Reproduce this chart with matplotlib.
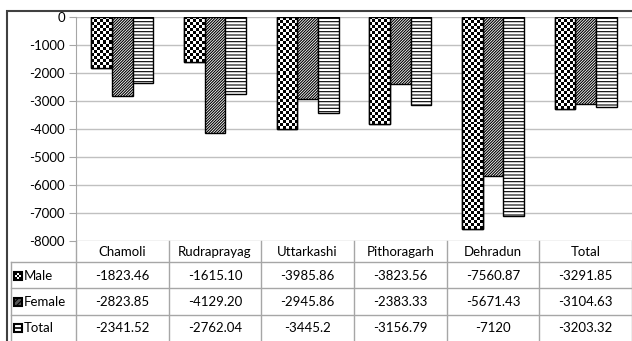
import numpy as np
import matplotlib
matplotlib.use('Agg')
import matplotlib.pyplot as plt
from matplotlib.patches import Rectangle

categories = ['Chamoli', 'Rudraprayag', 'Uttarkashi', 'Pithoragarh', 'Dehradun', 'Total']
series_names = ['Male', 'Female', 'Total']
male = [-1823.46, -1615.10, -3985.86, -3823.56, -7560.87, -3291.85]
female = [-2823.85, -4129.20, -2945.86, -2383.33, -5671.43, -3104.63]
total = [-2341.52, -2762.04, -3445.2, -3156.79, -7120, -3203.32]
male_labels = ['-1823.46', '-1615.10', '-3985.86', '-3823.56', '-7560.87', '-3291.85']
female_labels = ['-2823.85', '-4129.20', '-2945.86', '-2383.33', '-5671.43', '-3104.63']
total_labels = ['-2341.52', '-2762.04', '-3445.2', '-3156.79', '-7120', '-3203.32']
yticks = [0, -1000, -2000, -3000, -4000, -5000, -6000, -7000, -8000]

plt.rcParams['font.family'] = ['Lato', 'DejaVu Sans']
plt.rcParams['hatch.linewidth'] = 0.8

W, H = 632, 341
fig = plt.figure(figsize=(W / 100, H / 100), dpi=100)
fig.patch.set_facecolor('white')

ax_l, ax_r, ax_t, ax_b = 76, 632, 17, 241
ax = fig.add_axes([ax_l / W, 1 - ax_b / H, (ax_r - ax_l) / W, (ax_b - ax_t) / H])
ax.set_xlim(-0.5, 5.5)
ax.set_ylim(-8000, 0)
ax.set_yticks(yticks)
ax.set_yticklabels([str(v) for v in yticks], fontsize=9.5)
ax.set_xticks([])
for s in ['top', 'right', 'bottom']:
    ax.spines[s].set_visible(False)
ax.spines['left'].set_color('#a6a6a6')
ax.tick_params(axis='y', length=5, color='#a6a6a6', pad=3, labelcolor='black')
ax.yaxis.grid(True, color='#c0c0c0', linewidth=1)
ax.set_axisbelow(True)

bw = 0.222
x = np.arange(len(categories))
px_per_x = (ax_r - ax_l) / 6.0
px_per_y = (ax_b - ax_t) / 8000.0

# Male: checkerboard via clipped images
mbars = ax.bar(x - bw, male, bw, color='white', edgecolor='black', linewidth=1, zorder=2)
for b in mbars:
    x0, w0 = b.get_x(), b.get_width()
    h0 = b.get_height()
    nx = max(1, int(round(w0 * px_per_x / 3)))
    ny = max(1, int(round(abs(h0) * px_per_y / 3)))
    chk = np.add.outer(np.arange(ny), np.arange(nx)) % 2
    im = ax.imshow(chk, cmap='gray', vmin=0, vmax=1, interpolation='nearest',
                   extent=(x0, x0 + w0, h0, 0), aspect='auto', zorder=2.5)
    im.set_clip_path(b)
ax.bar(x - bw, male, bw, fill=False, edgecolor='black', linewidth=1, zorder=3)
ax.bar(x, female, bw, color='white', edgecolor='black', linewidth=1, hatch='/' * 12, zorder=2)
ax.bar(x + bw, total, bw, color='white', edgecolor='black', linewidth=1, hatch='-----', zorder=2)
ax.set_xlim(-0.5, 5.5)
ax.set_ylim(-8000, 0)

# Table axes
tax = fig.add_axes([ax_l / W, 0, (ax_r - ax_l) / W, 1 - ax_b / H])
tax.set_xlim(-0.5, 5.5)
tax.set_ylim(H, ax_b)
tax.axis('off')

def xd(px):
    return (px - ax_l) / px_per_x - 0.5

lc = '#a6a6a6'
rows_y = [262, 288, 315, 341]
for i in range(7):
    tax.plot([i - 0.5, i - 0.5], [ax_b, H], color=lc, lw=1, clip_on=False)
tax.plot([xd(11), xd(11)], [262, H], color=lc, lw=1, clip_on=False)
for yy in rows_y[:3]:
    tax.plot([xd(11), 5.5], [yy, yy], color=lc, lw=1, clip_on=False)

for i, c in enumerate(categories):
    tax.text(i, 252, c, ha='center', va='center', fontsize=9.5, color='black')
row_vals = [male_labels, female_labels, total_labels]
row_cy = [276, 302, 328]
for r, (nm, vals) in enumerate(zip(series_names, row_vals)):
    cy = row_cy[r]
    for i, v in enumerate(vals):
        tax.text(i, cy, v, ha='center', va='center', fontsize=9.5, color='black')
    tax.text(xd(24), cy, nm, ha='left', va='center', fontsize=9.5, color='black')

# legend keys
ks = 8
kx0, kx1 = xd(14), xd(14 + ks)
for r, cy in enumerate(row_cy):
    y0, y1 = cy - ks / 2, cy + ks / 2
    if r == 0:
        chk = np.add.outer(np.arange(3), np.arange(3)) % 2
        tax.imshow(chk, cmap='gray', vmin=0, vmax=1, interpolation='nearest',
                   extent=(kx0, kx1, y1, y0), aspect='auto', zorder=3, clip_on=False)
        tax.add_patch(Rectangle((kx0, y0), kx1 - kx0, ks, fill=False, ec='black', lw=1.5, clip_on=False, zorder=4))
    elif r == 1:
        tax.add_patch(Rectangle((kx0, y0), kx1 - kx0, ks, fc='#555555', ec='black', lw=1.5,
                                hatch='//////', clip_on=False, zorder=4))
    else:
        tax.add_patch(Rectangle((kx0, y0), kx1 - kx0, ks, fc='white', ec='black', lw=1.5,
                                clip_on=False, zorder=4))
        tax.plot([kx0, kx1], [cy, cy], color='black', lw=1.2, clip_on=False, zorder=5)
tax.set_xlim(-0.5, 5.5)
tax.set_ylim(H, ax_b)

# outer chart border
fig.patches.append(Rectangle((7 / W, -0.1), 1.2, (H - 11) / H + 0.1, transform=fig.transFigure,
                             fill=False, ec='#404040', lw=1.5, zorder=10))

fig.savefig('out.png', dpi=100)
